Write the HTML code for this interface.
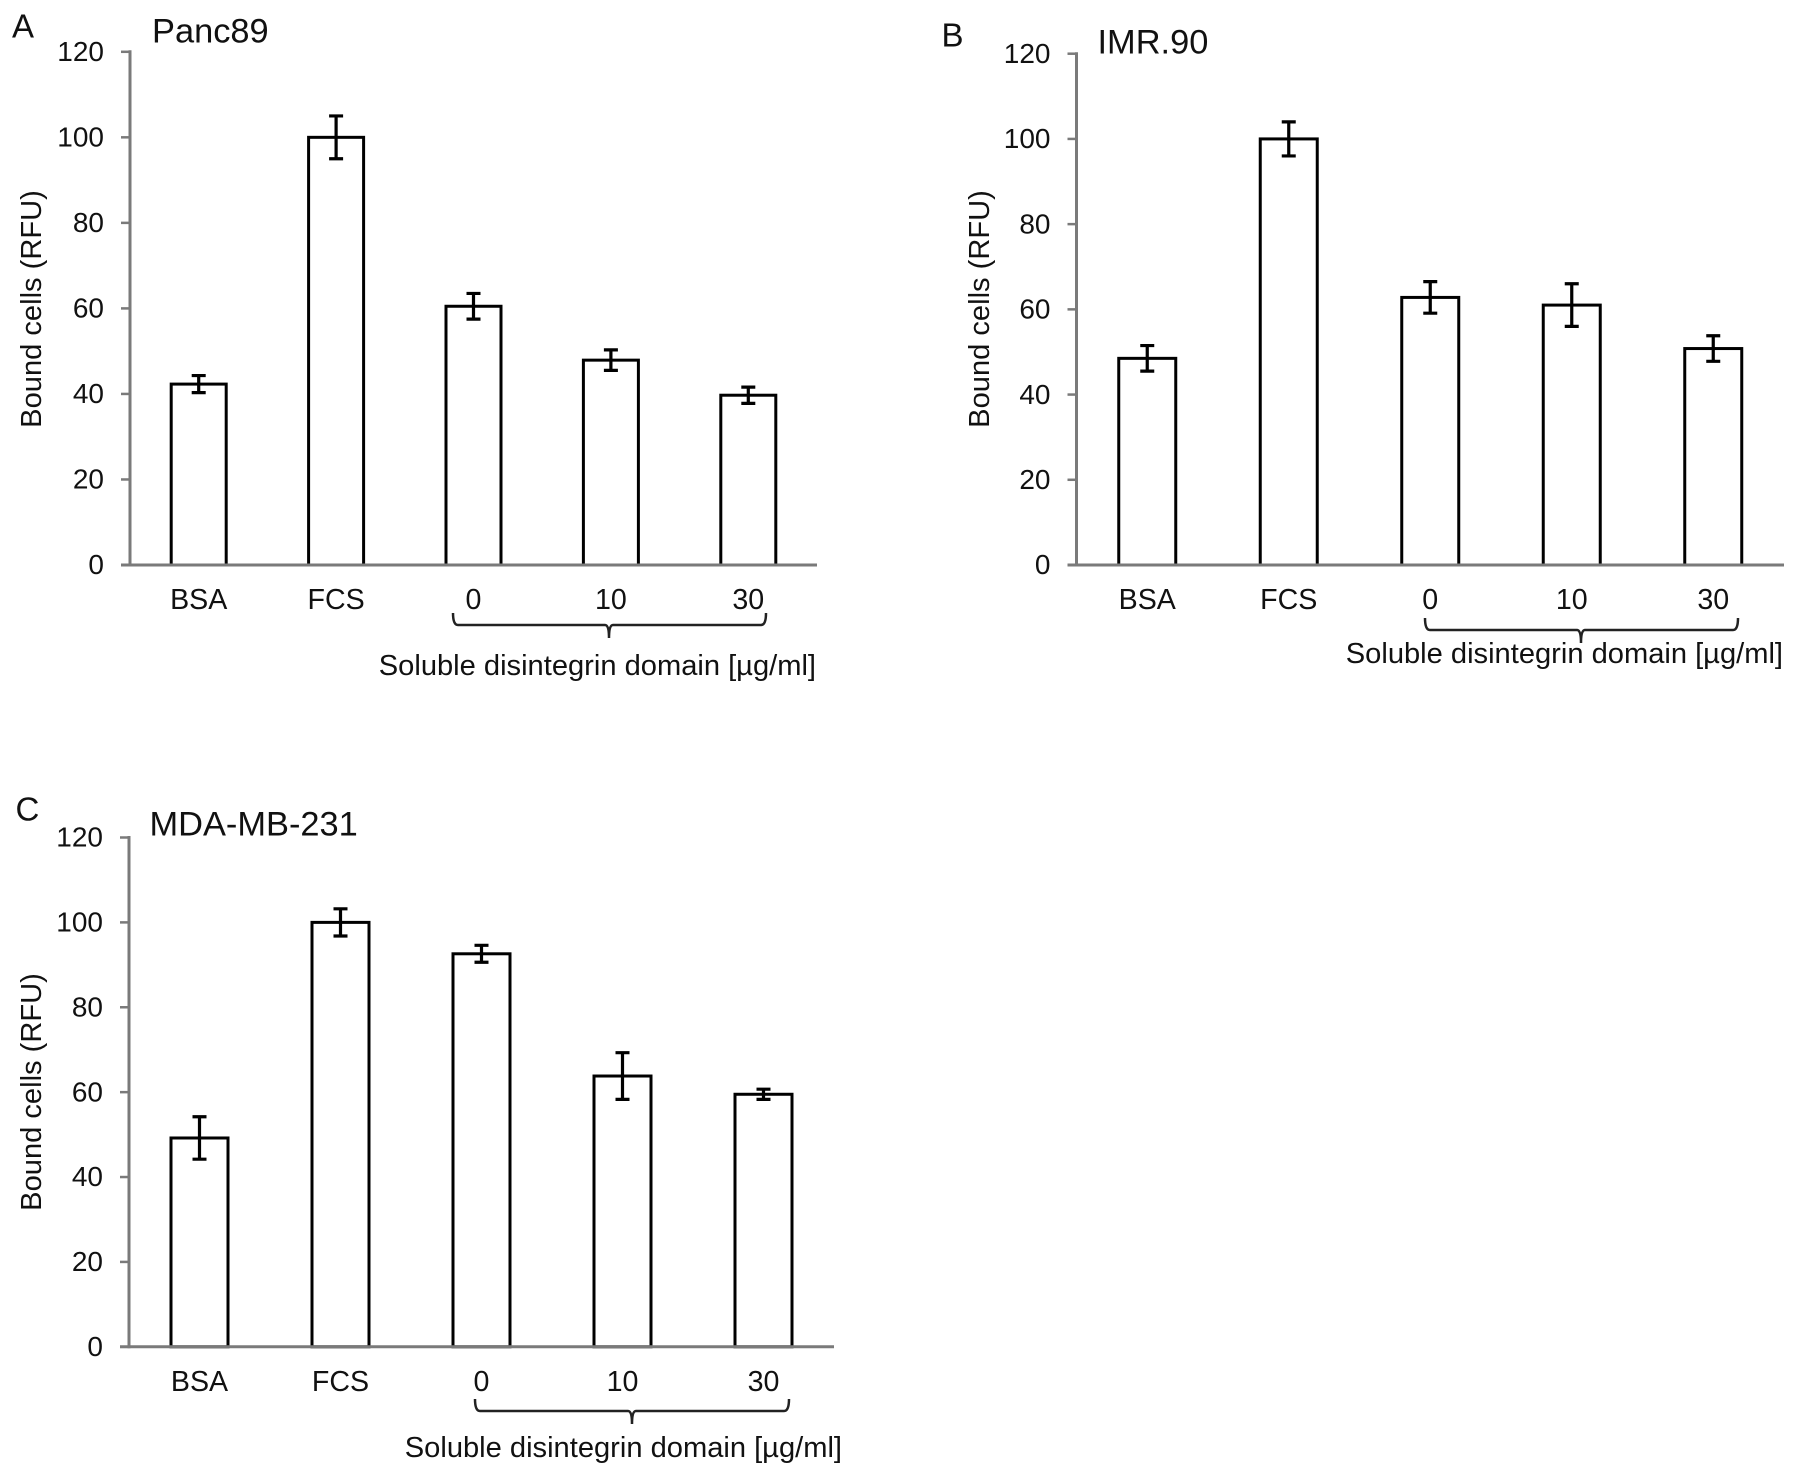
<!DOCTYPE html>
<html lang="en">
<head>
<meta charset="utf-8">
<title>Bound cells bar charts</title>
<style>
  html, body { margin: 0; padding: 0; background: #fff; }
  svg { display: block; }
  text { font-family: "Liberation Sans", sans-serif; fill: #111; }
  .tick { font-size: 28px; }
  .cat { font-size: 28.6px; }
  .axis-title { font-size: 29.1px; }
  .title { font-size: 34.4px; }
  .letter { font-size: 33px; }
</style>
</head>
<body>
<svg id="figure" xmlns="http://www.w3.org/2000/svg" width="1795" height="1475" viewBox="0 0 1795 1475">
  <rect x="0" y="0" width="1795" height="1475" fill="#fff"/>

  <g id="panel-a">
    <text class="letter" x="12" y="37.7">A</text>
    <text class="title" x="152" y="42.7">Panc89</text>
    <text class="axis-title" transform="translate(41 309) rotate(-90)" text-anchor="middle">Bound cells (RFU)</text>
    <path d="M453 613 Q453 625 458 625 L605 625 Q609 625 609 638 Q609 625 613 625 L761 625 Q766 625 766 613" fill="none" stroke="#222" stroke-width="2.5"/>
    <text class="axis-title" x="816" y="675" text-anchor="end">Soluble disintegrin domain [µg/ml]</text>
  </g>

  <g id="panel-b">
    <text class="letter" x="941.5" y="46.7">B</text>
    <text class="title" x="1097.5" y="53.3">IMR.90</text>
    <text class="axis-title" transform="translate(989 309) rotate(-90)" text-anchor="middle">Bound cells (RFU)</text>
    <path d="M1425 618 Q1425 630 1430 630 L1577 630 Q1581 630 1581 643 Q1581 630 1585 630 L1733 630 Q1738 630 1738 618" fill="none" stroke="#222" stroke-width="2.5"/>
    <text class="axis-title" x="1783" y="663" text-anchor="end">Soluble disintegrin domain [µg/ml]</text>
  </g>

  <g id="panel-c">
    <text class="letter" x="15.5" y="820.5">C</text>
    <text class="title" x="149.5" y="835.5">MDA-MB-231</text>
    <text class="axis-title" transform="translate(41 1092) rotate(-90)" text-anchor="middle">Bound cells (RFU)</text>
    <path d="M475 1399 Q475 1411 480 1411 L628 1411 Q632 1411 632 1424 Q632 1411 636 1411 L784 1411 Q789 1411 789 1399" fill="none" stroke="#222" stroke-width="2.5"/>
    <text class="axis-title" x="842" y="1457" text-anchor="end">Soluble disintegrin domain [µg/ml]</text>
  </g>
</svg>

<script>
// Chart data
const categories = ["BSA", "FCS", "0", "10", "30"];
const yTickValues = [0, 20, 40, 60, 80, 100, 120];
const panelAValues = [42.3, 100, 60.5, 47.9, 39.7];
const panelAErrors = [2, 5, 3, 2.4, 1.9];
const panelBValues = [48.5, 100, 62.8, 61, 50.8];
const panelBErrors = [3, 4, 3.7, 5, 3];
const panelCValues = [49.2, 100, 92.6, 63.8, 59.5];
const panelCErrors = [5, 3.2, 2, 5.5, 1.2];

const SVG_NS = "http://www.w3.org/2000/svg";

function make(tag, attrs, parent) {
  const el = document.createElementNS(SVG_NS, tag);
  for (const key in attrs) el.setAttribute(key, attrs[key]);
  parent.appendChild(el);
  return el;
}

function drawPanel(id, values, errors, layout) {
  const group = document.getElementById(id);
  const yMax = yTickValues[yTickValues.length - 1];
  const band = (layout.right - layout.left) / categories.length;
  const yScale = v => layout.bottom - (v / yMax) * (layout.bottom - layout.top);
  const xScale = i => layout.left + (i + 0.5) * band;
  const axisColor = "#7a7a7a";

  // Y axis
  const yAxis = make("line", { x1: layout.left, x2: layout.left, y1: yScale(yMax) - 1.5, y2: yScale(0) + 1.5, stroke: axisColor, "stroke-width": 3 }, group);
  
  

  yTickValues.forEach(v => {
    const y = yScale(v);
    const tick = make("line", { x1: layout.left - 9, x2: layout.left, y1: y, y2: y, stroke: axisColor, "stroke-width": 2.5 }, group);
    
    
    const label = make("text", { x: layout.left - 26, y: y + 9.2, "text-anchor": "end", class: "tick" }, group);
    
    
    label.textContent = String(v);
  });

  // Bars
  values.forEach((v, i) => {
    const cx = xScale(i);
    const top = yScale(v);
    const bar = make("rect", { x: cx - layout.barWidth / 2, y: top, width: layout.barWidth, height: yScale(0) - top, fill: "#fff", stroke: "#000", "stroke-width": 3 }, group);
    
    

    const hi = yScale(v + errors[i]);
    const lo = yScale(v - errors[i]);
    const err = make("path", {
      d: "M" + (cx - 7) + " " + hi + "H" + (cx + 7) + "M" + cx + " " + hi + "V" + lo + "M" + (cx - 7) + " " + lo + "H" + (cx + 7),
      fill: "none", stroke: "#000", "stroke-width": 3.2
    }, group);
    
    

    const cat = make("text", { x: cx, y: layout.labelY, "text-anchor": "middle", class: "cat" }, group);
    
    
    cat.textContent = categories[i];
  });

  // X axis on top of bar bottoms
  const xAxis = make("line", { x1: layout.left - 9, x2: layout.right, y1: yScale(0), y2: yScale(0), stroke: axisColor, "stroke-width": 3 }, group);
  
  
}

drawPanel("panel-a", panelAValues, panelAErrors, { left: 130, right: 817, top: 51.8, bottom: 565, barWidth: 55, labelY: 609 });
drawPanel("panel-b", panelBValues, panelBErrors, { left: 1076.5, right: 1784, top: 53.7, bottom: 565, barWidth: 57, labelY: 609 });
drawPanel("panel-c", panelCValues, panelCErrors, { left: 129, right: 834, top: 837.5, bottom: 1346.8, barWidth: 57, labelY: 1391 });
</script>
</body>
</html>
